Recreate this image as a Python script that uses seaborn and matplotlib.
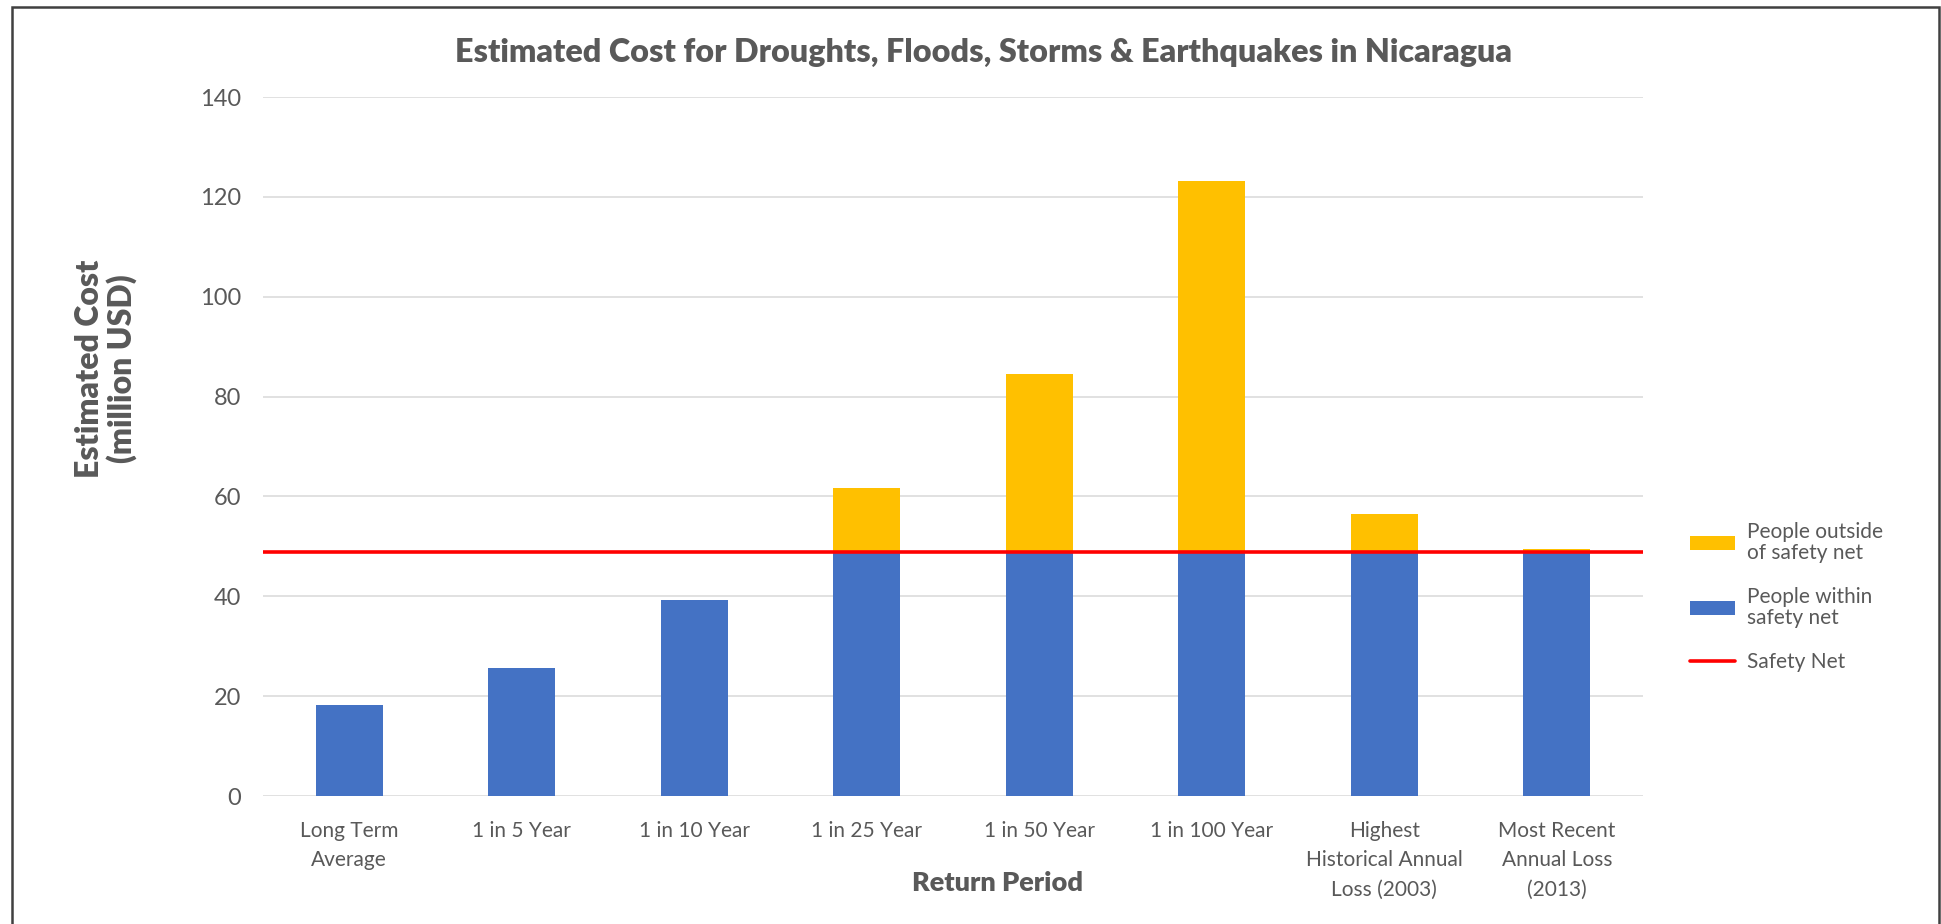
import matplotlib
matplotlib.use('Agg')
import matplotlib.pyplot as plt
import seaborn as sns
import pandas as pd
from matplotlib.patches import Patch, Rectangle
from matplotlib.lines import Line2D

# Values (million USD)
periods = ['Long Term\nAverage', '1 in 5 Year', '1 in 10 Year', '1 in 25 Year',
           '1 in 50 Year', '1 in 100 Year', 'Highest\nHistorical Annual\nLoss (2003)',
           'Most Recent\nAnnual Loss\n(2013)']
total_cost = [18.2, 25.7, 39.3, 61.7, 84.5, 123.1, 56.5, 49.5]
safety_net = 48.8
within_net = [min(v, safety_net) for v in total_cost]

df = pd.DataFrame({'period': periods, 'total': total_cost, 'within': within_net})

blue = '#4472C4'
yellow = '#FFC000'
red = '#FF0000'
grey = '#595959'

sns.set_style('white')
plt.rcParams['font.family'] = ['Lato', 'DejaVu Sans']

fig = plt.figure(figsize=(19.41, 9.24), dpi=100)
ax = fig.add_axes([0.1355, 0.1385, 0.711, 0.7565])

# stacked look: total in yellow, the part inside the safety net drawn over in blue
sns.barplot(data=df, x='period', y='total', color=yellow, saturation=1, width=0.39,
            linewidth=0, ax=ax)
sns.barplot(data=df, x='period', y='within', color=blue, saturation=1, width=0.39,
            linewidth=0, ax=ax)
ax.axhline(safety_net, color=red, lw=2.6, zorder=5)

ax.set_ylim(0, 140)
ax.set_yticks(range(0, 141, 20))
ax.set_axisbelow(True)
ax.yaxis.grid(True, color='#D9D9D9', lw=1.1)
for s in ax.spines.values():
    s.set_visible(False)
ax.tick_params(axis='both', length=0, colors=grey)
ax.tick_params(axis='y', pad=16, labelsize=17)
ax.tick_params(axis='x', pad=18, labelsize=15)
for lbl in ax.get_xticklabels():
    lbl.set_linespacing(1.58)
ax.set_xlabel('')
ax.set_ylabel('')

fig.text(0.5065, 0.9437, 'Estimated Cost for Droughts, Floods, Storms & Earthquakes in Nicaragua',
         ha='center', va='center', fontsize=23.2, fontweight='heavy', color=grey)
fig.text(0.0546, 0.6006, 'Estimated Cost\n(million USD)', rotation=90, ha='center', va='center',
         multialignment='center', fontsize=23, fontweight='heavy', color=grey,
         linespacing=1.05)
fig.text(0.514, 0.0444, 'Return Period', ha='center', va='center',
         fontsize=19.5, fontweight='heavy', color=grey)

handles = [Patch(facecolor=yellow, edgecolor='none'),
           Patch(facecolor=blue, edgecolor='none'),
           Line2D([0], [0], color=red, lw=2.6)]
labels = ['People outside\nof safety net', 'People within\nsafety net', 'Safety Net']
leg = ax.legend(handles, labels, loc='upper left', bbox_to_anchor=(1690 / 1941, 0.435),
                bbox_transform=fig.transFigure, frameon=False, fontsize=15,
                handlelength=2.15, handleheight=0.62, handletextpad=0.6,
                labelspacing=1.15, borderpad=0, borderaxespad=0)
for t in leg.get_texts():
    t.set_color(grey)
    t.set_linespacing(1.05)

# outer frame around the chart
fig.patches.append(Rectangle((12 / 1941, -0.02), 1927 / 1941, 1 - 7 / 924 + 0.02,
                             transform=fig.transFigure, fill=False, edgecolor='#404040',
                             lw=1.8, clip_on=False))

fig.savefig('out.png', dpi=100)
